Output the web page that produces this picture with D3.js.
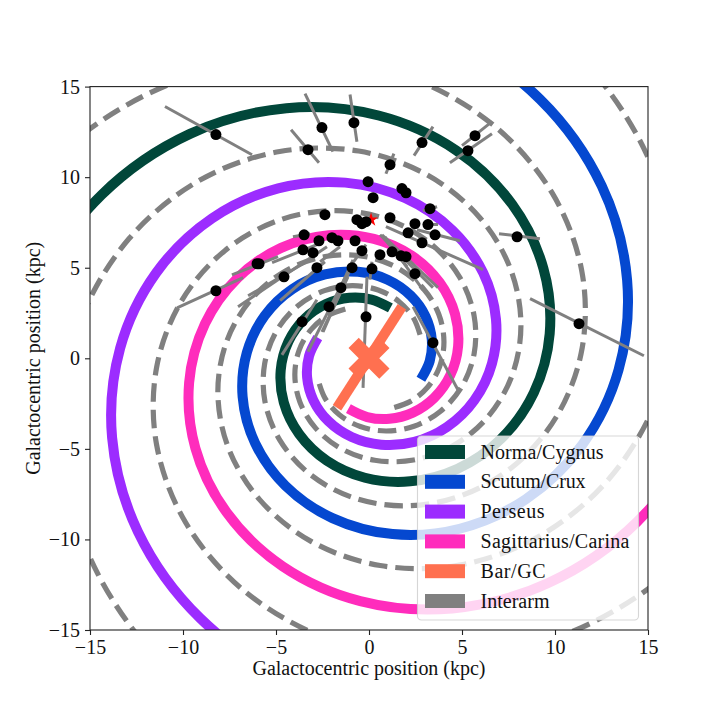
<!DOCTYPE html>
<html><head><meta charset="utf-8">
<script src="https://cdn.jsdelivr.net/npm/d3@7"></script>
<style>html,body{margin:0;padding:0;background:#fff}svg{display:block}text{font-family:"Liberation Serif",serif;fill:#111}</style>
</head><body><svg id="c" width="720" height="720"></svg>
<script>
const tickValues=[-15,-10,-5,0,5,10,15];
const axisLabel="Galactocentric position (kpc)";
const armNames=["Norma/Cygnus","Scutum/Crux","Perseus","Sagittarius/Carina","Bar/GC","Interarm"];
const armColors=["#01473a","#0548d0","#9c2cff","#ff2cbc","#ff7050","#808080"];
// radius (kpc) read along an arm at every 20 degrees from its inner end
const armRadii=[3,3.246,3.512,3.8,4.112,4.449,4.814,5.209,5.636,6.098,6.598,7.139,7.725,8.358,9.044,9.785,10.588,11.456,12.395,13.412,14.512,15.702,16.989,18.382,19.89,21.521];
// angle (degrees) of each arm's inner end
const normaStart=67.9, scutumStart=-22.7, perseusStart=157.6, sagittariusStart=247.9;
const interarmStarts=[22.9,202.6,112.9,292.9];
const barEnds=[[-1.72,-2.73],[1.77,2.85]];
const galacticCentre=[0,0];
const sun=[.11,7.65];
const sources=[[-8.23,12.35],[-2.53,12.74],[-.81,13.01],[-3.28,11.52],[2.85,11.91],[5.7,12.29],[5.32,11.46],[1.13,10.69],[-.05,9.75],[1.77,9.37],[1.99,9.14],[.22,8.87],[3.28,8.26],[-2.37,7.93],[1.13,7.76],[2.47,7.43],[3.17,7.38],[-.65,7.65],[-.38,7.43],[-.16,7.54],[2.1,6.93],[3.55,6.82],[-3.49,6.82],[-2.69,6.49],[-1.99,6.66],[-1.67,6.49],[-.75,6.49],[2.85,6.38],[-3.55,5.99],[-3.01,5.83],[-.38,5.94],[1.24,5.88],[1.72,5.66],[1.99,5.61],[.59,5.72],[-6.02,5.22],[-5.91,5.22],[2.47,4.67],[-.91,5],[.16,4.94],[-2.8,5],[-4.57,4.5],[-8.23,3.73],[-1.51,3.9],[-2.15,2.85],[3.44,.86],[-.16,2.29],[-3.6,2.02],[11.29,1.91],[7.96,6.71]];
const errorSegments=[[-10.97,13.9,-6.29,11.24],[-3.44,14.61,-1.94,11.41],[-1.02,14.56,-.65,11.96],[-4.19,12.62,-2.69,10.8],[3.44,12.79,2.42,11.19],[6.61,13.07,5,11.74],[6.61,12.4,4.35,10.8],[1.34,11.3,.91,10.19],[-.11,10.03,.05,9.48],[2.9,8.15,3.66,8.37],[2.58,7.1,4.89,6.49],[2.9,7.38,3.71,7.38],[.91,7.27,6.13,4.89],[.7,6.82,3.71,3.9],[.59,6.82,3.44,3.9],[.86,6.71,2.9,3.78],[.75,6.71,2.04,5.06],[-4.09,6.71,-3.17,6.88],[-5.21,5.28,-2.8,6.27],[-7.37,4.61,-4.89,5.61],[-10.32,2.79,-6.77,4.45],[-7.04,2.85,-2.26,6.16],[-6.5,3.45,-3.17,5.44],[-4.78,3.18,-2.37,5.33],[-2.63,5.33,-1.56,6.16],[-1.02,5.06,-.16,6.27],[-1.99,2.85,-.86,5.44],[-2.47,1.46,-1.02,4.89],[-3.28,.36,-1.29,4.45],[-4.68,.19,-2.8,3.23],[-2.53,1.46,-1.13,4.5],[-.11,4.5,-.32,-1.63],[.16,5.33,.05,4.34],[2.37,2.85,4.78,-1.74],[8.66,3.29,14.78,.14],[6.99,6.88,9.19,6.6]];

const L=90,R=648,T=86.6,B=630;
const dashPhase=[2.7,5,2.5,3.5];
const svg=d3.select("#c");
const x=d3.scaleLinear().domain([-15,15]).range([L,R]);
const y=d3.scaleLinear().domain([-15,15]).range([B,T]);
svg.append("defs").append("clipPath").attr("id","plot").append("rect").attr("x",L).attr("y",T).attr("width",R-L).attr("height",B-T);
const g=svg.append("g").attr("clip-path","url(#plot)");
const armLayer=g.append("g").attr("transform","translate(.4,0)");
const toXY=start=>armRadii.map((r,i)=>{const a=(start+i*20)*Math.PI/180;return [r*Math.cos(a),r*Math.sin(a)];});
const path=d3.line().x(d=>x(d[0])).y(d=>y(d[1])).curve(d3.curveCatmullRom.alpha(.5));
[normaStart,scutumStart,perseusStart,sagittariusStart].forEach((s,i)=>{
  armLayer.append("path").attr("d",path(toXY(s))).attr("fill","none").attr("stroke",armColors[i]).attr("stroke-width",10);
});
interarmStarts.forEach((s,i)=>{
  armLayer.append("path").attr("d",path(toXY(s))).attr("fill","none").attr("stroke",armColors[5]).attr("stroke-width",5.2).attr("stroke-dasharray","18.5 8").attr("stroke-dashoffset",-dashPhase[i]);
});
g.selectAll("line.err").data(errorSegments).join("line").attr("class","err")
 .attr("x1",d=>x(d[0])).attr("y1",d=>y(d[1])).attr("x2",d=>x(d[2])).attr("y2",d=>y(d[3]))
 .attr("stroke",armColors[5]).attr("stroke-width",3);
g.append("line").attr("x1",x(barEnds[0][0])).attr("y1",y(barEnds[0][1])).attr("x2",x(barEnds[1][0])).attr("y2",y(barEnds[1][1])).attr("stroke",armColors[4]).attr("stroke-width",10);
const u=10.25;
const xShape=[[-1,-2],[0,-1],[1,-2],[2,-1],[1,0],[2,1],[1,2],[0,1],[-1,2],[-2,1],[-1,0],[-2,-1]];
g.append("polygon").attr("points",xShape.map(p=>[x(galacticCentre[0])+p[0]*u,y(galacticCentre[1])+p[1]*u].join(",")).join(" ")).attr("fill",armColors[4]);
g.append("path").attr("d",d3.symbol(d3.symbolStar,60)()).attr("transform",`translate(${x(sun[0])},${y(sun[1])})`).attr("fill","#f00");
g.selectAll("circle").data(sources).join("circle").attr("cx",d=>x(d[0])).attr("cy",d=>y(d[1])).attr("r",5.5).attr("fill","#000");

svg.append("rect").attr("x",L).attr("y",T).attr("width",R-L).attr("height",B-T).attr("fill","none").attr("stroke","#222").attr("stroke-width",1.1);
const fmt=d=>String(d).replace("-","\u2212");
const ax=svg.append("g").attr("transform",`translate(0,${B})`).call(d3.axisBottom(x).tickValues(tickValues).tickFormat(fmt).tickSize(5).tickPadding(5));
const ay=svg.append("g").attr("transform",`translate(${L},0)`).call(d3.axisLeft(y).tickValues(tickValues).tickFormat(fmt).tickSize(5).tickPadding(5));
[ax,ay].forEach(a=>{a.select(".domain").remove();a.selectAll("line").attr("stroke","#222").attr("stroke-width",1.1);a.selectAll("text").style("font-family",'"Liberation Serif",serif').style("font-size","20px").attr("fill","#111");});
svg.append("text").attr("x",(L+R)/2).attr("y",675).attr("text-anchor","middle").attr("font-size",20).attr("textLength",233).attr("lengthAdjust","spacing").text(axisLabel);
svg.append("text").attr("transform",`translate(40,${(T+B)/2}) rotate(-90)`).attr("text-anchor","middle").attr("font-size",20).attr("textLength",233).attr("lengthAdjust","spacing").text(axisLabel);

const lg=svg.append("g");
lg.append("rect").attr("x",417.5).attr("y",436).attr("width",221).attr("height",184).attr("rx",4).attr("fill","#fff").attr("fill-opacity",.8).attr("stroke","#ccc").attr("stroke-opacity",.8).attr("stroke-width",1.1);
const rowScale=d3.scalePoint().domain(armNames).range([452,601]);
const textWidths=[123,105,64,149,65,69];
armNames.forEach((n,i)=>{
  lg.append("rect").attr("x",425).attr("y",rowScale(n)-7).attr("width",40).attr("height",14).attr("fill",armColors[i]);
  lg.append("text").attr("x",480.5).attr("y",rowScale(n)+6.5).attr("font-size",20).attr("textLength",textWidths[i]).attr("lengthAdjust","spacing").text(n);
});
</script></body></html>
